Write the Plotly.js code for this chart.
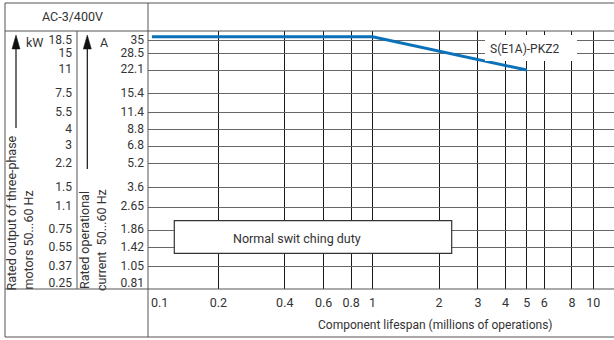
<!DOCTYPE html>
<html>
<head>
<meta charset="utf-8">
<script src="https://cdn.plot.ly/plotly-3.0.1.min.js"></script>
<style>html,body{margin:0;padding:0;background:#fff;}#chart{width:614px;height:340px;}</style>
</head>
<body>
<div id="chart"></div>
<script>
// ---- data ----
const lifespanTicks = [0.1, 0.2, 0.4, 0.6, 0.8, 1, 2, 3, 4, 5, 6, 8, 10];
const lifespanTickLabels = ['0.1', '0.2', '0.4', '0.6', '0.8', '1', '2', '3', '4', '5', '6', '8', '10'];
const currentTicks = [35, 28.5, 22.1, 15.4, 11.4, 8.8, 6.8, 5.2, 3.6, 2.65, 1.86, 1.42, 1.05, 0.81];
const currentTickLabels = ['35', '28.5', '22.1', '15.4', '11.4', '8.8', '6.8', '5.2', '3.6', '2.65', '1.86', '1.42', '1.05', '0.81'];
const motorKWLabels = ['18.5', '15', '11', '7.5', '5.5', '4', '3', '2.2', '1.5', '1.1', '0.75', '0.55', '0.37', '0.25'];
const curveName = 'S(E1A)-PKZ2';
const curveLifespan = [0.1, 1, 5];
const curveCurrent = [37, 37, 22.1];

// ---- geometry helpers (pixel -> paper) ----
const W = 614, H = 340, ML = 72, PLOT_L = 148, PR = 614, PT = 31, PB = 289;
const px = v => (v - ML) / (PR - ML);
const py = v => (PB - v) / (PB - PT);

const FONT = 'Roboto, Liberation Sans, Arial, sans-serif';
const TXT = '#333';
const FRAME = '#555';
const xRange = [-1.0177, 1.0938];
const yRange = [-0.127, 1.607];

const pad = '\u00a0'.repeat(5);
const xLabels = lifespanTickLabels.map((t, i) => i === 0 ? pad + t : t);

const traces = [
  {x: curveLifespan, y: curveCurrent, xaxis: 'x2', yaxis: 'y3', mode: 'lines',
   line: {width: 0}, opacity: 0, hoverinfo: 'skip', showlegend: false},
  {x: curveLifespan, y: curveCurrent, xaxis: 'x', yaxis: 'y2', mode: 'lines',
   line: {width: 0}, opacity: 0, hoverinfo: 'skip', showlegend: false},
  {x: curveLifespan, y: curveCurrent, xaxis: 'x', yaxis: 'y', mode: 'lines', name: curveName,
   line: {color: '#0b72b9', width: 3}, hoverinfo: 'skip', showlegend: false}
];

function hline(y, x0, x1) {
  return {type: 'line', xref: 'paper', yref: 'paper', x0: px(x0), x1: px(x1), y0: py(y), y1: py(y),
          line: {color: FRAME, width: 1}, layer: 'above'};
}
function vline(x, y0, y1) {
  return {type: 'line', xref: 'paper', yref: 'paper', x0: px(x), x1: px(x), y0: py(y0), y1: py(y1),
          line: {color: FRAME, width: 1}, layer: 'above'};
}
function arrow(x, yTip, yTail) {
  return [
    {type: 'line', xref: 'paper', yref: 'paper', x0: px(x), x1: px(x), y0: py(yTail), y1: py(yTip + 12),
     line: {color: '#111', width: 1.2}, layer: 'above'},
    {type: 'path', xref: 'paper', yref: 'paper',
     path: `M ${px(x)} ${py(yTip)} L ${px(x - 4)} ${py(yTip + 14)} L ${px(x + 4)} ${py(yTip + 14)} Z`,
     fillcolor: '#111', line: {color: '#111', width: 0.5}, layer: 'above'}
  ];
}

const shapes = [
  // curve label box
  {type: 'rect', xref: 'paper', yref: 'paper', x0: px(485), x1: px(577), y0: py(61), y1: py(35),
   fillcolor: '#fff', line: {width: 0}, layer: 'above'},
  // normal switching duty box
  {type: 'rect', xref: 'paper', yref: 'paper', x0: px(174.3), x1: px(451.7), y0: py(253.3), y1: py(220.7),
   fillcolor: '#fff', line: {color: '#333', width: 1.2}, layer: 'above'},
  hline(3, 5, 614), hline(31, 5, 614), hline(289, 5, 614), hline(337, 5, 614),
  vline(5, 3, 337), vline(148, 3, 337), vline(77, 31, 289),
  ...arrow(16, 35, 128),
  ...arrow(87.3, 35, 169)
];

function ann(text, x, y, opts) {
  return Object.assign({text: text, xref: 'paper', yref: 'paper', x: px(x), y: py(y),
    showarrow: false, xanchor: 'center', yanchor: 'middle',
    font: {family: FONT, size: 12.5, color: TXT}}, opts || {});
}

const annotations = [
  ann('AC-3/400V', 72.5, 17),
  ann('kW', 24, 43, {xanchor: 'left'}),
  ann('A', 104, 43),
  ann('Rated output of three-phase', 11.5, 213, {textangle: -90}),
  ann('motors 50...60 Hz', 28, 240.5, {textangle: -90}),
  ann('Rated operational', 84, 240, {textangle: -90}),
  ann('current  50...60 Hz', 101.5, 240.5, {textangle: -90}),
  ann(curveName, 524, 49, {font: {family: FONT, size: 12, color: TXT}}),
  ann('Normal swit ching duty', 296.7, 238),
  ann('Component lifespan (millions of operations)', 435, 325, {font: {family: FONT, size: 12, color: TXT}})
];

const tickFont = {family: FONT, size: 12, color: TXT};

const layout = {
  width: W, height: H,
  margin: {l: ML, r: W - PR, t: PT, b: H - PB, pad: 0},
  paper_bgcolor: '#fff', plot_bgcolor: '#fff',
  showlegend: false, hovermode: false,
  font: {family: FONT, color: TXT},
  xaxis: {type: 'log', range: xRange, domain: [px(PLOT_L), 1],
          tickvals: lifespanTicks, ticktext: xLabels,
          showgrid: false, zeroline: false, showline: false, ticks: '', tickfont: {family: FONT, size: 12.5, color: TXT},
          ticklabelstandoff: 4, fixedrange: true},
  xaxis2: {type: 'log', range: xRange, overlaying: 'x', anchor: 'y', side: 'bottom',
           tickvals: lifespanTicks.slice(1), showticklabels: false,
           showgrid: true, gridcolor: '#1a1a1a', gridwidth: 1, zeroline: false, showline: false, ticks: ''},
  yaxis: {type: 'log', range: yRange, tickvals: currentTicks, ticktext: currentTickLabels,
          showgrid: false, zeroline: false, showline: false, ticks: '', tickfont: tickFont,
          ticklabelstandoff: 3, ticklabelshift: -1, fixedrange: true},
  yaxis2: {type: 'log', range: yRange, overlaying: 'y', anchor: 'free', position: 0, side: 'left',
           tickvals: currentTicks, ticktext: motorKWLabels,
           showgrid: false, zeroline: false, showline: false, ticks: '', tickfont: tickFont,
           ticklabelshift: -1},
  yaxis3: {type: 'log', range: yRange, overlaying: 'y', anchor: 'x', side: 'left',
           tickvals: currentTicks.slice(0, -1), showticklabels: false,
           showgrid: true, gridcolor: '#666', gridwidth: 1, zeroline: false, showline: false, ticks: ''},
  shapes: shapes,
  annotations: annotations
};

Plotly.newPlot('chart', traces, layout, {staticPlot: true, displayModeBar: false});
</script>
</body>
</html>
